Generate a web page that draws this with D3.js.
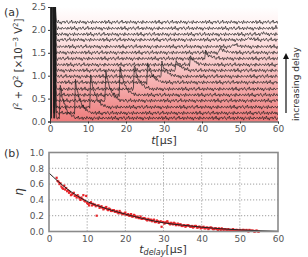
<!DOCTYPE html>
<html><head><meta charset="utf-8">
<script src="https://cdn.jsdelivr.net/npm/d3@7"></script>
<style>
html,body{margin:0;padding:0;background:#fff;}
svg text{font-family:"DejaVu Sans",sans-serif;}
</style></head>
<body><div id="chart"></div>
<script>
// ---------- DATA: panel (a) ----------
const traceOffsets = [0.07, 0.18, 0.31, 0.45, 0.575, 0.705, 0.85, 0.98, 1.11, 1.235, 1.37, 1.5, 1.63, 1.78, 1.9, 2.03, 2.165];
const traceDelays  = [2.8, 6.8, 10.7, 14.6, 18.4, 22.2, 25.8, 29.5, 33.3, 37.0, 40.9, 44.6, 48.2, 52.0, 55.8, 59.5, 63.0];
const tracePeaks   = [0.72, 0.72, 0.70, 0.66, 0.60, 0.52, 0.42, 0.30, 0.22, 0.18, 0.14, 0.10, 0.06, 0.04, 0.03, 0.02, 0.01];
const pulseStep = 0.1;   // µs per sample in the readout pulse
const readoutPulse = [0, 3.2, 0, 3.2, 0, 3.2, 3.2, 3.2, 3.2, 3.2, 0, 3.2, 0, 3.2, 0.6, 0.25, 0.1];
const sampleStep = 0.25; // µs per sample after the pulse
const echoShape = [1.0, 0.82, 0.67, 0.55, 0.45, 0.37, 0.3, 0.25, 0.2, 0.16, 0.13, 0.1, 0.08, 0.06, 0.045, 0.03, 0.02, 0.01, 0.0];
const noise = [0.01,-0.02,0.03,-0.01,0.0,0.04,-0.03,0.02,-0.01,0.05,-0.02,0.01,-0.04,0.02,0.0,0.03,-0.02,0.01,0.04,-0.01,-0.03,0.02,0.0,0.05,-0.02,0.01,-0.01,0.03,-0.03,0.02,0.01,-0.02,0.04,0.0,-0.01,0.03,-0.02,0.02,-0.04,0.01,0.03,-0.01,0.0,0.02,-0.03,0.04,-0.01,0.01,-0.02,0.03,0.0,-0.01,0.02];
const xTicksA = [0, 10, 20, 30, 40, 50, 60];
const yTicksA = [0.0, 0.5, 1.0, 1.5, 2.0, 2.5];

// ---------- DATA: panel (b) ----------
const tDelay = [2.0,2.5,3.0,3.5,4.0,4.5,5.0,5.5,6.0,6.5,7.0,7.5,8.0,8.5,9.0,9.5,10.0,10.5,11.0,11.5,12.0,12.5,13.0,13.5,14.0,14.5,15.0,15.5,16.0,16.5,17.0,17.5,18.0,18.5,19.0,19.5,20.0,20.5,21.0,21.5,22.0,22.5,23.0,23.5,24.0,24.5,25.0,25.5,26.0,26.5,27.0,27.5,28.0,28.5,29.0,29.5,30.0,30.5,31.0,31.5,32.0,32.5,33.0,33.5,34.0,34.5,35.0,35.5,36.0,36.5,37.0,37.5,38.0,38.5,39.0,39.5,40.0,40.5,41.0,41.5,42.0,42.5,43.0,43.5,44.0,44.5,45.0,45.5,46.0,46.5,47.0,47.5,48.0,48.5,49.0,49.5,50.0,50.5,51.0,51.5,52.0,52.5,53.0,53.5,54.0,54.5,55.0];
const eta = [0.68,0.63,0.61,0.55,0.58,0.55,0.52,0.50,0.47,0.49,0.45,0.46,0.42,0.43,0.46,0.38,0.36,0.33,0.37,0.35,0.34,0.20,0.33,0.31,0.30,0.29,0.31,0.27,0.28,0.26,0.27,0.25,0.24,0.26,0.23,0.22,0.24,0.21,0.20,0.22,0.19,0.20,0.18,0.17,0.19,0.16,0.17,0.15,0.16,0.14,0.13,0.15,0.12,0.13,0.12,0.06,0.12,0.11,0.13,0.10,0.11,0.09,0.10,0.09,0.08,0.09,0.07,0.08,0.07,0.08,0.06,0.07,0.06,0.07,0.05,0.06,0.05,0.06,0.04,0.05,0.04,0.05,0.03,0.04,0.03,0.04,0.02,0.03,0.03,0.02,0.03,0.02,0.02,0.01,0.02,0.01,0.02,0.01,0.02,0.01,0.01,0.02,0.01,0.01,0.0,0.01,0.0];
const tDelay2 = [2.25,2.75,3.25,3.75,4.25,4.75,5.25,5.75,6.25,6.75,7.25,7.75,8.25,8.75,9.25,9.75,10.25,10.75,11.25,11.75,12.25,12.75,13.25,13.75,14.25,14.75,15.25,15.75,16.25,16.75,17.25,17.75,18.25,18.75,19.25,19.75,20.25,20.75,21.25,21.75,22.25,22.75,23.25,23.75,24.25,24.75,25.25,25.75,26.25,26.75,27.25,27.75,28.25,28.75,29.25,29.75,30.25,30.75,31.25,31.75,32.25,32.75,33.25,33.75,34.25,34.75,35.25,35.75,36.25,36.75,37.25,37.75,38.25,38.75,39.25,39.75,40.25,40.75,41.25,41.75,42.25,42.75,43.25,43.75,44.25,44.75,45.25,45.75,46.25,46.75,47.25,47.75,48.25,48.75,49.25,49.75,50.25,50.75,51.25,51.75,52.25,52.75,53.25,53.75,54.25,54.75];
const eta2 = [0.64,0.60,0.57,0.54,0.53,0.51,0.49,0.46,0.48,0.45,0.43,0.44,0.40,0.41,0.39,0.45,0.35,0.36,0.33,0.34,0.32,0.33,0.30,0.32,0.28,0.30,0.28,0.29,0.26,0.27,0.25,0.26,0.23,0.24,0.22,0.23,0.21,0.22,0.20,0.19,0.21,0.18,0.19,0.17,0.16,0.17,0.16,0.14,0.15,0.15,0.14,0.12,0.14,0.11,0.13,0.12,0.10,0.12,0.11,0.09,0.10,0.11,0.08,0.10,0.09,0.07,0.08,0.06,0.08,0.07,0.06,0.05,0.07,0.05,0.06,0.04,0.05,0.04,0.05,0.03,0.05,0.04,0.03,0.04,0.02,0.03,0.04,0.02,0.03,0.02,0.01,0.02,0.03,0.01,0.02,0.01,0.01,0.02,0.01,0.02,0.0,0.01,0.01,0.0,0.01,0.0];
const fitT   = [0, 5, 10, 15, 20, 25, 30, 35, 40, 45, 50, 55, 60];
const fitEta = [0.74, 0.53, 0.38, 0.29, 0.22, 0.16, 0.11, 0.08, 0.055, 0.035, 0.02, 0.01, 0.003];
const xTicksB = [0, 10, 20, 30, 40, 50, 60];
const yTicksB = [0.0, 0.2, 0.4, 0.6, 0.8, 1.0];

// ---------- DRAW ----------
const W = 308, H = 257;
const svg = d3.select("#chart").append("svg").attr("width", W).attr("height", H);
const defs = svg.append("defs");

const xA = d3.scaleLinear().domain([0, 60]).range([50, 278]);
const yA = d3.scaleLinear().domain([0, 2.5]).range([121.5, 7]);

const grad = defs.append("linearGradient").attr("id", "bgGrad")
  .attr("x1", 0).attr("y1", 1).attr("x2", 0).attr("y2", 0);
grad.append("stop").attr("offset", "0%").attr("stop-color", "#ee7b7b");
grad.append("stop").attr("offset", "45%").attr("stop-color", "#f8c3c3");
grad.append("stop").attr("offset", "85%").attr("stop-color", "#fff2f2");
grad.append("stop").attr("offset", "100%").attr("stop-color", "#ffffff");

defs.append("clipPath").attr("id", "clipA").append("rect")
  .attr("x", xA(0)).attr("y", yA(2.5)).attr("width", xA(60) - xA(0)).attr("height", yA(0) - yA(2.5));

const gA = svg.append("g");
gA.append("rect").attr("x", xA(0)).attr("y", yA(2.5))
  .attr("width", xA(60) - xA(0)).attr("height", yA(0) - yA(2.5)).attr("fill", "url(#bgGrad)");

const tStart = readoutPulse.length * pulseStep;
const nSamples = Math.round((60 - tStart) / sampleStep) + 1;
const line = d3.line().x(d => xA(d[0])).y(d => yA(d[1]));
const traceG = gA.append("g").attr("clip-path", "url(#clipA)");
traceOffsets.forEach((off, i) => {
  const pts = [];
  readoutPulse.forEach((p, j) => pts.push([j * pulseStep, off + p]));
  for (let j = 0; j < nSamples; j++) {
    const t = tStart + j * sampleStep;
    let v = off + noise[(j + 17 * i) % noise.length];
    const k = Math.round((t - traceDelays[i]) / sampleStep);
    if (k >= 0 && k < echoShape.length) v += tracePeaks[i] * echoShape[k];
    pts.push([t, v]);
  }
  traceG.append("path").attr("d", line(pts)).attr("fill", "none")
    .attr("stroke", "#1e1e1e").attr("stroke-opacity", 0.85).attr("stroke-width", 0.8).attr("stroke-linejoin", "round");
});

const axA_x = gA.append("g").attr("transform", `translate(0,${yA(0)})`)
  .call(d3.axisBottom(xA).tickValues(xTicksA).tickSize(2).tickPadding(2).tickFormat(d3.format("d")));
const axA_y = gA.append("g").attr("transform", `translate(${xA(0)},0)`)
  .call(d3.axisLeft(yA).tickValues(yTicksA).tickSize(2).tickPadding(2).tickFormat(d3.format(".1f")));
[axA_x, axA_y].forEach(a => {
  a.selectAll("path").attr("stroke", "#333").attr("stroke-width", 1);
  a.selectAll("line").attr("stroke", "#333");
  a.selectAll("text").attr("fill", "#555").attr("font-size", 9);
});

// labels panel (a)
svg.append("text").attr("x", 4).attr("y", 16).attr("font-size", 11).attr("fill", "#333").text("(a)");
svg.append("text").attr("transform", `translate(22,${yA(1.25)}) rotate(-90)`)
  .attr("text-anchor", "middle").attr("font-size", 10).attr("fill", "#333")
  .attr("font-family", "DejaVu Serif, serif")
  .html('<tspan font-style="italic">I</tspan><tspan dy="-4" font-size="7">2</tspan><tspan dy="4"> + </tspan><tspan font-style="italic">Q</tspan><tspan dy="-4" font-size="7">2</tspan><tspan dy="4"> [×10</tspan><tspan dy="-4" font-size="7">−3</tspan><tspan dy="4"> V</tspan><tspan dy="-4" font-size="7">2</tspan><tspan dy="4">]</tspan>');
svg.append("text").attr("x", 164).attr("y", 144).attr("text-anchor", "middle")
  .attr("font-size", 11).attr("fill", "#333").attr("font-family", "DejaVu Serif, serif")
  .html('<tspan font-style="italic">t</tspan>[µs]');

// increasing delay arrow
defs.append("marker").attr("id", "arrowHead").attr("viewBox", "0 0 10 10")
  .attr("refX", 5).attr("refY", 5).attr("markerWidth", 5).attr("markerHeight", 6).attr("orient", "auto")
  .append("path").attr("d", "M0,0 L10,5 L0,10 z").attr("fill", "#111");
svg.append("line").attr("x1", 286).attr("y1", 113).attr("x2", 286).attr("y2", 56)
  .attr("stroke", "#111").attr("stroke-width", 1.2).attr("marker-end", "url(#arrowHead)");
svg.append("text").attr("transform", "translate(299,84) rotate(-90)").attr("text-anchor", "middle")
  .attr("font-size", 9).attr("fill", "#333").text("increasing delay");

// ---------- panel (b) ----------
const xB = d3.scaleLinear().domain([0, 60]).range([49, 278]);
const yB = d3.scaleLinear().domain([0, 1]).range([231.5, 152.5]);
const gB = svg.append("g");

gB.selectAll(".gx").data(xTicksB.slice(1, -1)).enter().append("line")
  .attr("x1", d => xB(d)).attr("x2", d => xB(d)).attr("y1", yB(0)).attr("y2", yB(1))
  .attr("stroke", "#777").attr("stroke-width", 0.7).attr("stroke-dasharray", "1.2,1.8");
gB.selectAll(".gy").data(yTicksB.slice(1, -1)).enter().append("line")
  .attr("x1", xB(0)).attr("x2", xB(60)).attr("y1", d => yB(d)).attr("y2", d => yB(d))
  .attr("stroke", "#777").attr("stroke-width", 0.7).attr("stroke-dasharray", "1.2,1.8");

const axB_x = gB.append("g").attr("transform", `translate(0,${yB(0)})`)
  .call(d3.axisBottom(xB).tickValues(xTicksB).tickSize(0).tickPadding(4).tickFormat(d3.format("d")));
const axB_y = gB.append("g").attr("transform", `translate(${xB(0)},0)`)
  .call(d3.axisLeft(yB).tickValues(yTicksB).tickSize(0).tickPadding(5).tickFormat(d3.format(".1f")));
[axB_x, axB_y].forEach(a => {
  a.select(".domain").remove();
  a.selectAll("text").attr("fill", "#555").attr("font-size", 9);
});

const allPts = tDelay.map((t, i) => [t, eta[i]]).concat(tDelay2.map((t, i) => [t, eta2[i]]));
gB.selectAll(".pt").data(allPts).enter().append("rect")
  .attr("x", d => xB(d[0]) - 1.1).attr("y", d => yB(d[1]) - 1.1)
  .attr("width", 2.2).attr("height", 2.2).attr("fill", "#e8262b");

const fitLine = d3.line().x(d => xB(d)).y((d, i) => yB(fitEta[i])).curve(d3.curveMonotoneX);
gB.append("path").attr("d", fitLine(fitT)).attr("fill", "none").attr("stroke", "#222").attr("stroke-width", 1);

gB.append("rect").attr("x", xB(0)).attr("y", yB(1)).attr("width", xB(60) - xB(0)).attr("height", yB(0) - yB(1))
  .attr("fill", "none").attr("stroke", "#8a8a8a").attr("stroke-width", 1.6);

svg.append("text").attr("x", 4).attr("y", 157).attr("font-size", 11).attr("fill", "#333").text("(b)");
svg.append("text").attr("transform", `translate(23,${yB(0.5)}) rotate(-90)`).attr("text-anchor", "middle")
  .attr("font-size", 12).attr("fill", "#333").attr("font-family", "DejaVu Serif, serif")
  .attr("font-style", "italic").text("η");
svg.append("text").attr("x", 163).attr("y", 253).attr("text-anchor", "middle")
  .attr("font-size", 11).attr("fill", "#333").attr("font-family", "DejaVu Serif, serif")
  .html('<tspan font-style="italic">t</tspan><tspan font-style="italic" font-size="8" dy="2">delay</tspan><tspan dy="-2">[µs]</tspan>');
</script>
</body></html>
